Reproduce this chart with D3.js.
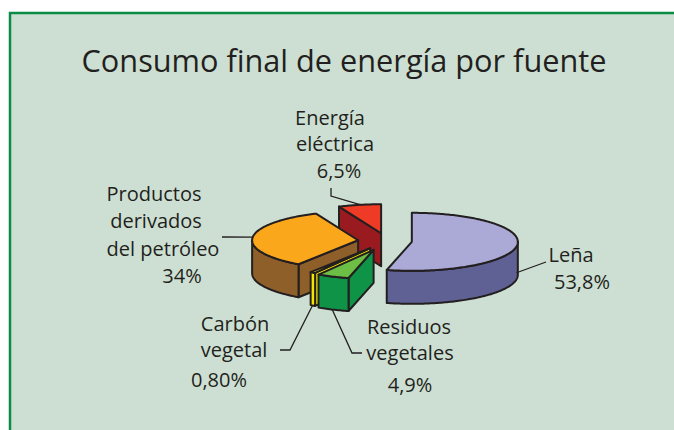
<!DOCTYPE html>
<html>
<head>
<meta charset="utf-8">
<script src="https://cdn.jsdelivr.net/npm/d3@7"></script>
<style>
  html, body { margin: 0; padding: 0; background: #fff; }
  svg text { font-family: "Open Sans", "Noto Sans", sans-serif; fill: #231f20; }
</style>
</head>
<body>
<svg id="chart" width="674" height="430"></svg>
<script>
// Consumo final de energía por fuente - exploded 3D pie

const categories = ['Leña', 'Residuos vegetales', 'Carbón vegetal', 'Productos derivados del petróleo', 'Energía eléctrica'];
const values = [53.8, 4.9, 0.8, 34, 6.5];
const labelLines = [
    ['Leña', '53,8%'],
    ['Residuos', 'vegetales', '4,9%'],
    ['Carbón', 'vegetal', '0,80%'],
    ['Productos', 'derivados', 'del petróleo', '34%'],
    ['Energía', 'eléctrica', '6,5%']
];

// colours: [top, side]
const sliceColors = [
    ['#aba9d5', '#5f6094'],
    ['#6cbe45', '#0f9347'],
    ['#fff200', '#f2e400'],
    ['#fba71b', '#8e5f29'],
    ['#ef3b25', '#9a1b1f']
];

// layout
const cx = 387, cy = 241;
const rx = 106, ry = 29, depth = 33;
const explode = [25, 35, 31, 29, 29];
const drawOrder = [4, 3, 2, 1, 0];

// label lines: [x centre, baseline]
const labelPos = [
    [[571, 262], [582, 289]],
    [[409, 334], [410, 360], [410, 392]],
    [[235, 331], [234, 357], [219, 387]],
    [[154, 201], [156, 228], [163, 256], [182, 283]],
    [[330, 125], [335, 151], [339, 178]]
];

// leader lines: start on the slice rim (angle in degrees, fraction of depth), then elbows
const leaders = [
    { angle: 99, frac: 0.8, pts: [[546, 262]] },
    { angle: 203, frac: 1, pts: [[352, 353], [362, 353]] },
    { angle: 213, frac: 1, pts: [[290, 350], [280, 350]] },
    { angle: 276, frac: 0, pts: [[222, 237]] },
    { angle: 349, frac: 0, pts: [[331, 196], [331, 188]] }
];

const svg = d3.select('#chart');

// frame
svg.append('rect')
    .attr('x', 10).attr('y', 13)
    .attr('width', 700).attr('height', 450)
    .attr('fill', '#cddfd2')
    .attr('stroke', '#0b8c46')
    .attr('stroke-width', 2.5);

svg.append('text')
    .attr('x', 344).attr('y', 72)
    .attr('text-anchor', 'middle')
    .attr('font-size', 30.7)
    .text('Consumo final de energía por fuente');

const pie = d3.pie().sort(null).value(d => d);
const arcs = pie(values);

const apex = arcs.map((a, i) => {
    const mid = (a.startAngle + a.endAngle) / 2;
    return [cx + explode[i] * Math.sin(mid), cy - explode[i] * (ry / rx) * Math.cos(mid)];
});

function rim(i, ang, dz) {
    return [apex[i][0] + rx * Math.sin(ang), apex[i][1] - ry * Math.cos(ang) + dz];
}

function arcPoints(i, a0, a1, dz) {
    const n = Math.max(2, Math.ceil(Math.abs(a1 - a0) / (Math.PI / 180)));
    return d3.range(n + 1).map(j => rim(i, a0 + (a1 - a0) * j / n, dz));
}

const line = d3.line();
const g = svg.append('g')
    .attr('stroke', '#231f20')
    .attr('stroke-width', 2)
    .attr('stroke-linejoin', 'round');

drawOrder.forEach(i => {
    const a = arcs[i];
    const s = a.startAngle, e = a.endAngle;
    const [top, side] = sliceColors[i];
    const p = apex[i];

    // radial faces, drawn only when they face the viewer
    const nStart = s - Math.PI / 2;
    if (-Math.cos(nStart) > 0) {
        const r0 = rim(i, s, 0);
        g.append('path')
            .attr('d', line([p, r0, [r0[0], r0[1] + depth], [p[0], p[1] + depth]]) + 'Z')
            .attr('fill', side);
    }
    const nEnd = e + Math.PI / 2;
    if (-Math.cos(nEnd) > 1e-6) {
        const r1 = rim(i, e, 0);
        g.append('path')
            .attr('d', line([p, r1, [r1[0], r1[1] + depth], [p[0], p[1] + depth]]) + 'Z')
            .attr('fill', side);
    }

    // outer wall, front half only
    const w0 = Math.max(s, Math.PI / 2), w1 = Math.min(e, 3 * Math.PI / 2);
    if (w1 > w0) {
        const pts = arcPoints(i, w0, w1, 0).concat(arcPoints(i, w1, w0, depth));
        g.append('path').attr('d', line(pts) + 'Z').attr('fill', side);
    }

    // top face
    g.append('path')
        .attr('d', line([p].concat(arcPoints(i, s, e, 0))) + 'Z')
        .attr('fill', top);
});

// leaders
leaders.forEach((l, i) => {
    const start = rim(i, l.angle * Math.PI / 180, l.frac * depth);
    svg.append('path')
        .attr('d', line([start].concat(l.pts)))
        .attr('fill', 'none')
        .attr('stroke', '#231f20')
        .attr('stroke-width', 1.3);
});

// labels
labelLines.forEach((lines, i) => {
    lines.forEach((t, j) => {
        svg.append('text')
            .attr('x', labelPos[i][j][0])
            .attr('y', labelPos[i][j][1])
            .attr('text-anchor', 'middle')
            .attr('font-size', 20)
            .text(t);
    });
});
</script>
</body>
</html>
